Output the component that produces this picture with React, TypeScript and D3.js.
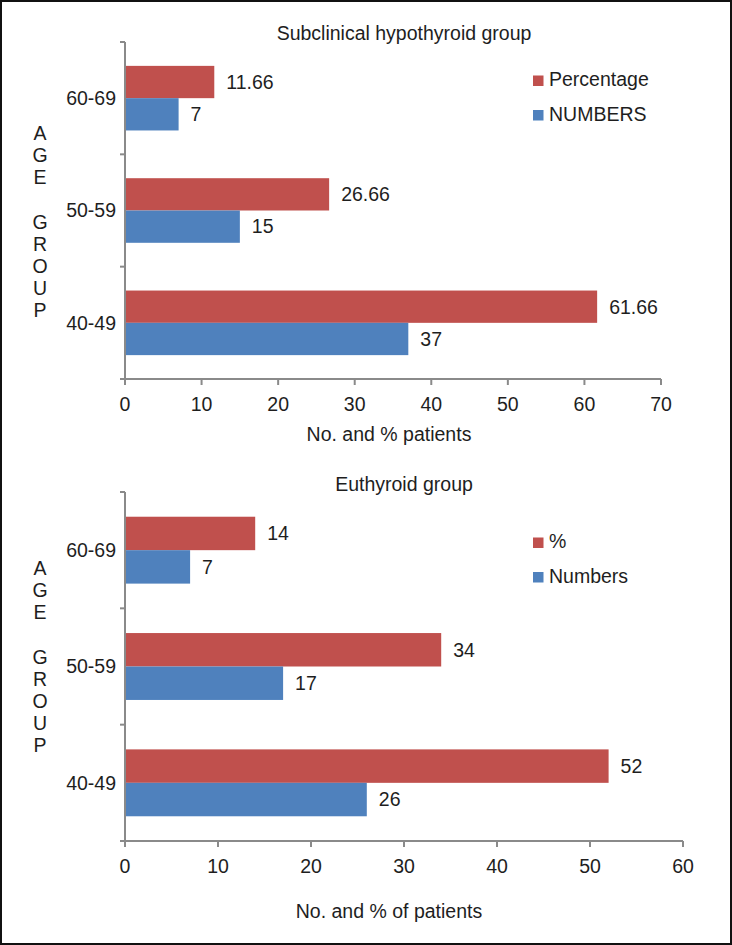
import React from "react";
import * as d3 from "d3";

const categories = ["60-69", "50-59", "40-49"];
const subPercentage = [11.66, 26.66, 61.66];
const subNumbers = [7, 15, 37];
const euPercentage = [14, 34, 52];
const euNumbers = [7, 17, 26];
const subTicks = [0, 10, 20, 30, 40, 50, 60, 70];
const euTicks = [0, 10, 20, 30, 40, 50, 60];
const ageLetters = ["A", "G", "E", "", "G", "R", "O", "U", "P"];

const RED = "#C0504D";
const BLUE = "#4F81BD";
const AXIS = "#8a8a8a";
const TEXT = "#1e1e1e";
const FONT = "'Liberation Sans', Arial, sans-serif";
const FS = 19.5;

type PanelProps = {
  title: string;
  titleY: number;
  xTitle: string;
  xTitleY: number;
  top: number;
  bottom: number;
  xMax: number;
  xRight: number;
  ticks: number[];
  pct: number[];
  num: number[];
  legendPct: string;
  legendNum: string;
  legendY: number;
  lettersTop: number;
};

function Panel(p: PanelProps) {
  const left = 125;
  const x = d3.scaleLinear().domain([0, p.xMax]).range([left, p.xRight]);
  const y = d3
    .scaleBand<string>()
    .domain(categories)
    .range([p.top, p.bottom])
    .paddingInner(0.425)
    .paddingOuter(0.2125);
  const inner = d3
    .scaleBand<string>()
    .domain(["pct", "num"])
    .range([0, y.bandwidth()]);
  const step = y.step();
  const bounds = d3.range(categories.length + 1).map((i) => p.top + i * step);
  const series = [
    { key: "pct", values: p.pct, color: RED },
    { key: "num", values: p.num, color: BLUE },
  ];
  return (
    <g fontFamily={FONT} fill={TEXT}>
      <text x={404} y={p.titleY} textAnchor="middle" fontSize={FS}>
        {p.title}
      </text>
      {categories.map((c, i) => (
        <g key={c}>
          {series.map((s) => {
            const y0 = (y(c) as number) + (inner(s.key) as number);
            const v = s.values[i];
            return (
              <g key={s.key}>
                <rect
                  x={x(0)}
                  y={y0}
                  width={x(v) - x(0)}
                  height={inner.bandwidth()}
                  fill={s.color}
                />
                <text
                  x={x(v) + 12}
                  y={y0 + inner.bandwidth() / 2}
                  dy="0.35em"
                  fontSize={FS}
                >
                  {String(v)}
                </text>
              </g>
            );
          })}
          <text
            x={116}
            y={(y(c) as number) + y.bandwidth() / 2}
            dy="0.35em"
            textAnchor="end"
            fontSize={FS}
          >
            {c}
          </text>
        </g>
      ))}
      {/* y axis */}
      <line x1={left} x2={left} y1={p.top} y2={p.bottom} stroke={AXIS} strokeWidth={2} />
      {bounds.map((b, i) => (
        <line key={i} x1={left - 5} x2={left} y1={b} y2={b} stroke={AXIS} strokeWidth={2} />
      ))}
      {/* x axis */}
      <line x1={left - 5} x2={p.xRight} y1={p.bottom} y2={p.bottom} stroke={AXIS} strokeWidth={2} />
      {p.ticks.map((t) => (
        <g key={t}>
          <line x1={x(t)} x2={x(t)} y1={p.bottom} y2={p.bottom + 6} stroke={AXIS} strokeWidth={2} />
          <text x={x(t)} y={p.bottom + 32} textAnchor="middle" fontSize={FS}>
            {t}
          </text>
        </g>
      ))}
      <text x={389} y={p.xTitleY} textAnchor="middle" fontSize={FS}>
        {p.xTitle}
      </text>
      {/* legend */}
      <rect x={533} y={p.legendY - 10.5} width={10.5} height={10.5} fill={RED} />
      <text x={549} y={p.legendY} fontSize={FS}>
        {p.legendPct}
      </text>
      <rect x={533} y={p.legendY + 34.5 - 10.5} width={10.5} height={10.5} fill={BLUE} />
      <text x={549} y={p.legendY + 34.5} fontSize={FS}>
        {p.legendNum}
      </text>
      {/* AGE GROUP letters */}
      {ageLetters.map((l, i) => (
        <text
          key={i}
          x={40}
          y={p.lettersTop + i * 22.2}
          dy="0.35em"
          textAnchor="middle"
          fontSize={FS}
        >
          {l}
        </text>
      ))}
    </g>
  );
}

export default function App() {
  return (
    <svg
      width={732}
      height={945}
      style={{ position: "absolute", left: 0, top: 0, background: "#fff" }}
    >
      <rect x={0} y={0} width={732} height={945} fill="#fff" />
      <Panel
        title="Subclinical hypothyroid group"
        titleY={40}
        xTitle="No. and % patients"
        xTitleY={441}
        top={42}
        bottom={379}
        xMax={70}
        xRight={661}
        ticks={subTicks}
        pct={subPercentage}
        num={subNumbers}
        legendPct="Percentage"
        legendNum="NUMBERS"
        legendY={86}
        lettersTop={133}
      />
      <Panel
        title="Euthyroid group"
        titleY={491}
        xTitle="No. and % of patients"
        xTitleY={918}
        top={492}
        bottom={841}
        xMax={60}
        xRight={683}
        ticks={euTicks}
        pct={euPercentage}
        num={euNumbers}
        legendPct="%"
        legendNum="Numbers"
        legendY={548}
        lettersTop={568}
      />
      <rect x={1} y={1} width={730} height={943} fill="none" stroke="#111" strokeWidth={2} />
    </svg>
  );
}
